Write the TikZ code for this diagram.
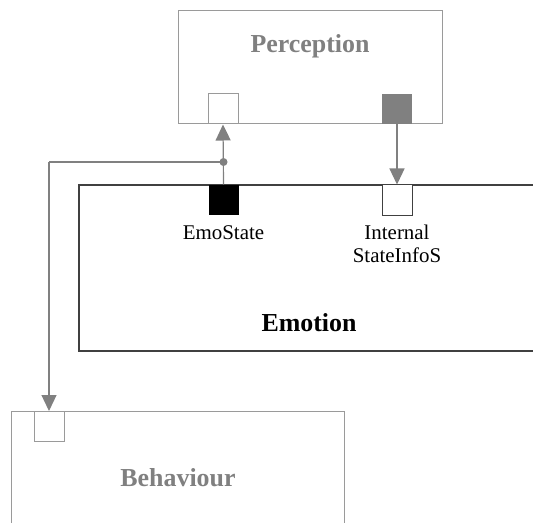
\documentclass[tikz,border=0pt]{standalone}
\usepackage{fontspec}
\setmainfont{Liberation Serif}
\usetikzlibrary{arrows.meta}
\definecolor{wire}{HTML}{808080}
\definecolor{frame}{HTML}{9A9A9A}
\definecolor{dark}{HTML}{404040}
\tikzset{
  comp/.style={draw=frame, line width=1bp, fill=white, inner sep=0pt},
  title/.style={font=\bfseries\fontsize{26}{28}\selectfont, text=wire, inner sep=0pt},
  label/.style={font=\fontsize{21}{23}\selectfont, align=center, inner sep=0pt},
  port/.style={minimum width=30bp, minimum height=30bp, inner sep=0pt, line width=1bp},
  inport/.style={port, draw=frame, fill=white},
  outport/.style={port, fill=wire},
  evport/.style={port, fill=black},
  evin/.style={port, draw=dark, fill=white},
  link/.style={draw=wire, line width=1.2bp, -{Triangle[length=16bp,width=15bp]}},
  plain/.style={draw=wire, line width=1.2bp}
}
\begin{document}
\begin{tikzpicture}[x=1bp,y=-1bp]
\useasboundingbox (0,0) rectangle (533,523);
\clip (0,0) rectangle (533,523);

% Perception component
\node[comp, minimum width=264bp, minimum height=113bp] (perc) at (310,67.5) {};
\node[title] (perct) at (310,46) {Perception};
\node[inport] (pin) at (223,109) {};
\node[outport] (pout) at (397,109) {};

% Emotion component (runs off to the right)
\node[draw=dark, line width=1.3bp, fill=white, minimum width=500bp, minimum height=166bp, inner sep=0pt] (emo) at (329,268) {};
\node[evport] (emostate) at (223.5,200) {};
\node[evin] (internal) at (397,200) {};
\node[label, anchor=north] (emostatel) at (223.5,225) {EmoState};
\node[label, anchor=north] (internall) at (397,225) {Internal\\StateInfoS};
\node[title, text=black] (emot) at (309,323) {Emotion};

% Behaviour component (runs off the bottom)
\node[comp, minimum width=332bp, minimum height=160bp] (beh) at (178,491) {};
\node[inport] (bin) at (49,426.5) {};
\node[title] (beht) at (178,478) {Behaviour};

% Connections
\coordinate (split) at (emostate.north |- 0,162);
\coordinate (corner) at (bin.north |- split);
\draw[link] (emostate.north) -- (pin.south);
\draw[plain] (split) -- (corner);
\draw[link] (corner) -- (bin.north);
\fill[wire] (split) circle (4bp);
\draw[link] (pout.south) -- (internal.north);
\end{tikzpicture}
\end{document}
